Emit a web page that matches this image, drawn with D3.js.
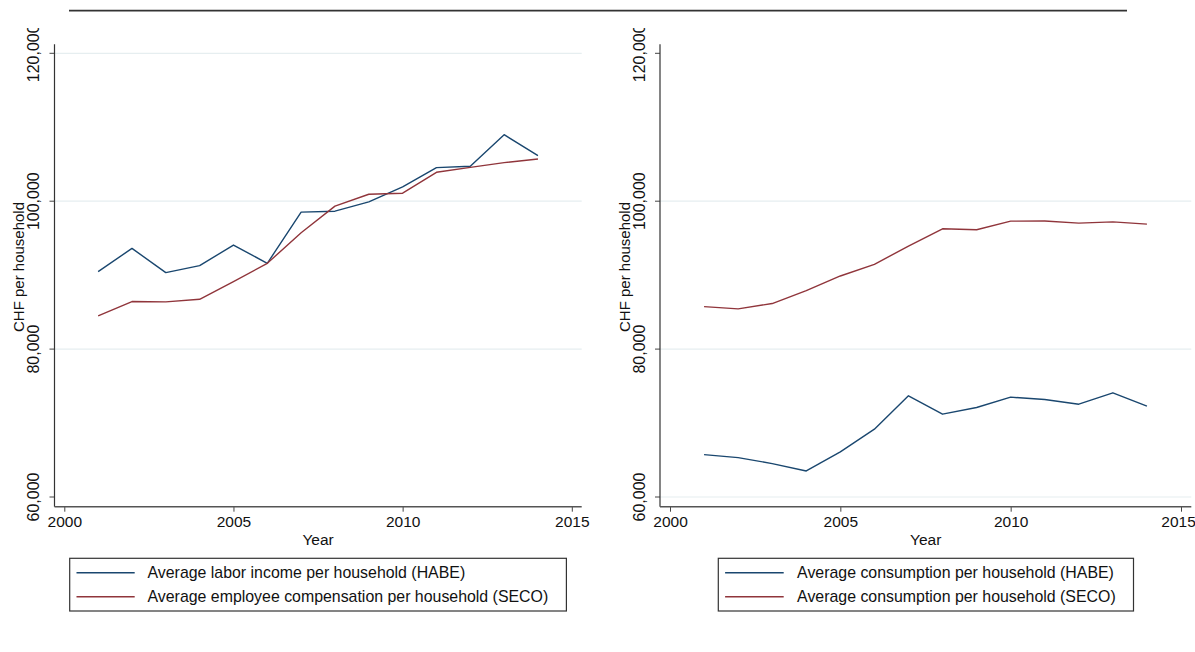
<!DOCTYPE html>
<html>
<head>
<meta charset="utf-8">
<script src="https://cdn.jsdelivr.net/npm/d3@7"></script>
<style>
  body { margin: 0; background: #fff; }
  svg { display: block; font-family: "Liberation Sans", Arial, sans-serif; }
</style>
</head>
<body>
<svg id="chart" width="1195" height="652"></svg>
<script>
// Years on the x axis
var years = [2001, 2002, 2003, 2004, 2005, 2006, 2007, 2008, 2009, 2010, 2011, 2012, 2013, 2014];

// Left panel: income
var laborHABE = [90470, 93620, 90340, 91280, 94070, 91600, 98520, 98650, 99910, 101930, 104540, 104720, 108990, 106160];
var compSECO = [84490, 86430, 86380, 86740, 89120, 91600, 95730, 99330, 100940, 101080, 103910, 104580, 105210, 105710];

// Right panel: consumption
var consHABE = [65730, 65330, 64520, 63520, 66100, 69170, 73680, 71200, 72100, 73500, 73180, 72550, 74090, 72280];
var consSECO = [85750, 85440, 86160, 87910, 89890, 91460, 93930, 96270, 96140, 97300, 97330, 97030, 97210, 96900];

// Tick values
var xTicks = [2000, 2005, 2010, 2015];
var yTicks = [60000, 80000, 100000, 120000];

var legendLeft = ["Average labor income per household (HABE)", "Average employee compensation per household (SECO)"];
var legendRight = ["Average consumption per household (HABE)", "Average consumption per household (SECO)"];

var navy = "#1a476f";
var maroon = "#90353b";

var svg = d3.select("#chart");

// top rule across both panels
svg.append("line")
  .attr("x1", 69).attr("x2", 1127)
  .attr("y1", 10.7).attr("y2", 10.7)
  .attr("stroke", "#333").attr("stroke-width", 1.8);

function drawPanel(p) {

  var g = svg.append("g");

  // clip so the top tick label gets cut like in the original
  var clipId = "clip-" + p.id;
  svg.append("defs").append("clipPath").attr("id", clipId)
    .append("rect").attr("x", p.left - 60).attr("y", 28).attr("width", 600).attr("height", 620);
  g.attr("clip-path", "url(#" + clipId + ")");

  var x = d3.scaleLinear().domain([2000, 2015]).range([p.x2000, p.x2015]);
  var y = d3.scaleLinear().domain([60000, 120000]).range([497, 53.3]);

  // gridlines
  g.append("g").selectAll("line")
    .data(p.grid)
    .join("line")
    .attr("x1", p.left).attr("x2", p.right)
    .attr("y1", d => y(d)).attr("y2", d => y(d))
    .attr("stroke", "#e6eef0").attr("stroke-width", 1.2);

  // y axis, labels turned upright like Stata does
  var yAxis = g.append("g")
    .attr("transform", "translate(" + p.left + ",0)")
    .call(d3.axisLeft(y).tickValues(yTicks).tickSize(5).tickFormat(d3.format(",")));
  yAxis.select(".domain").remove();
  yAxis.selectAll(".tick").attr("transform", null);
  yAxis.selectAll(".tick line")
    .attr("stroke", "#444")
    .attr("y1", d => y(d)).attr("y2", d => y(d));
  yAxis.selectAll(".tick text")
    .attr("font-size", 16)
    .attr("fill", "#111")
    .attr("x", null).attr("dy", null).attr("y", -15.5)
    .attr("text-anchor", "middle")
    .attr("transform", d => "translate(0," + y(d) + ") rotate(-90)");

  // x axis
  var xAxis = g.append("g")
    .attr("transform", "translate(0," + p.bottom + ")")
    .call(d3.axisBottom(x).tickValues(xTicks).tickSize(5).tickPadding(4).tickFormat(d3.format("d")));
  xAxis.select(".domain").remove();
  xAxis.selectAll(".tick line").attr("stroke", "#444");
  xAxis.selectAll(".tick text").attr("font-size", 15.5).attr("fill", "#111")
    .attr("dx", d => (d === 2015 && p.id === "right") ? -3 : 0);

  // axis lines
  g.append("line")
    .attr("x1", p.left).attr("x2", p.left)
    .attr("y1", p.top).attr("y2", p.bottom)
    .attr("stroke", "#333").attr("stroke-width", 1.2);
  g.append("line")
    .attr("x1", p.left).attr("x2", p.right)
    .attr("y1", p.bottom).attr("y2", p.bottom)
    .attr("stroke", "#555").attr("stroke-width", 1.4);

  // axis titles
  g.append("text")
    .attr("x", (p.left + p.right) / 2).attr("y", 545)
    .attr("text-anchor", "middle").attr("font-size", 15.5).attr("fill", "#111")
    .text("Year");
  g.append("text")
    .attr("transform", "translate(" + (p.left - 30.5) + ",267) rotate(-90)")
    .attr("text-anchor", "middle").attr("font-size", 15).attr("fill", "#111")
    .text("CHF per household");

  // series lines
  var line = d3.line()
    .x((d, i) => x(years[i]))
    .y(d => y(d));

  p.series.forEach(function(s) {
    g.append("path")
      .datum(s.values)
      .attr("d", line)
      .attr("fill", "none")
      .attr("stroke", s.color)
      .attr("stroke-width", 1.4)
      .attr("stroke-linejoin", "round");
  });

  // legend box
  var lg = svg.append("g");
  lg.append("rect")
    .attr("x", p.legX1).attr("y", 558.3)
    .attr("width", p.legX2 - p.legX1).attr("height", 52.7)
    .attr("fill", "#fff").attr("stroke", "#333").attr("stroke-width", 1.2);

  p.series.forEach(function(s, i) {
    var cy = 572.7 + i * 24;
    lg.append("line")
      .attr("x1", p.legLine1).attr("x2", p.legLine2)
      .attr("y1", cy).attr("y2", cy)
      .attr("stroke", s.color).attr("stroke-width", 1.4);
    lg.append("text")
      .attr("x", p.legText).attr("y", cy + 5.5)
      .attr("font-size", 15.9).attr("fill", "#111")
      .text(p.labels[i]);
  });
}

drawPanel({
  id: "left",
  left: 54.5, right: 581.7, top: 44.3, bottom: 506.7,
  x2000: 64.3, x2015: 571.8,
  grid: [80000, 100000, 120000],
  series: [{ values: laborHABE, color: navy }, { values: compSECO, color: maroon }],
  labels: legendLeft,
  legX1: 69.7, legX2: 566.4, legLine1: 76.5, legLine2: 134.7, legText: 147.5
});

drawPanel({
  id: "right",
  left: 660, right: 1191.3, top: 44.3, bottom: 506.7,
  x2000: 670, x2015: 1181,
  grid: [60000, 80000, 100000],
  series: [{ values: consHABE, color: navy }, { values: consSECO, color: maroon }],
  labels: legendRight,
  legX1: 718.3, legX2: 1133.5, legLine1: 725.1, legLine2: 783.7, legText: 797.1
});
</script>
</body>
</html>
